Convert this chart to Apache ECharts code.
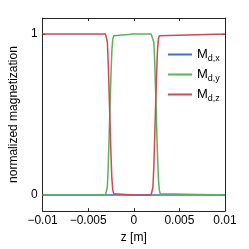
<!DOCTYPE html>
<html><head><meta charset="utf-8">
<script src="https://cdn.jsdelivr.net/npm/echarts@6/dist/echarts.min.js"></script>
<style>html,body{margin:0;padding:0;background:#fff}#c{width:249px;height:249px}</style>
</head><body><div id="c"></div>
<script>
var zValues = [-0.01,
  -0.0031, -0.0030, -0.0029, -0.0028, -0.0027, -0.0026, -0.0025, -0.0024, -0.0023, -0.0022, -0.0021, -0.0020,
  0,
  0.0019, 0.0020, 0.0021, 0.0022, 0.0023, 0.0024, 0.0025, 0.0026, 0.0027, 0.0028, 0.0029, 0.0030,
  0.01];
var mdx = [0,
  0, 0, 0, 0, 0, 0, 0, 0, 0, 0, 0, 0,
  0,
  0, 0, 0, 0, 0, 0, 0, 0, 0, 0, 0, 0,
  0];
var mdy = [0,
  0, 0.01, 0.05, 0.18, 0.37, 0.57, 0.75, 0.9, 0.97, 0.99, 0.998, 1,
  1,
  1, 1, 0.99, 0.95, 0.82, 0.63, 0.43, 0.25, 0.1, 0.03, 0.008, 0,
  0];
var mdz = [1,
  1, 0.99, 0.95, 0.82, 0.63, 0.43, 0.25, 0.1, 0.03, 0.008, 0, 0,
  0,
  0, 0.01, 0.05, 0.18, 0.37, 0.57, 0.75, 0.9, 0.97, 0.99, 0.998, 1,
  1];
var seriesNames = ['M_d,x', 'M_d,y', 'M_d,z'];
var seriesSubs = ['d,x', 'd,y', 'd,z'];
var yTicks = [0, 1];

function pairs(ys){ return zValues.map(function(z,i){ return [z, ys[i]]; }); }
var font = 'Liberation Sans, Arial, sans-serif';
var axisCol = '#262626';
var chart = echarts.init(document.getElementById('c'), null, {renderer:'canvas'});
chart.setOption({
  animation:false,
  textStyle:{fontFamily:font},
  grid:{left:32, right:24, top:18, bottom:30, containLabel:false},
  xAxis:[{
    type:'value', min:-0.01, max:0.01, interval:0.005,
    name:'z [m]', nameLocation:'middle', nameGap:17,
    nameTextStyle:{fontSize:12, color:'#000', fontFamily:font},
    axisLine:{onZero:false, lineStyle:{color:axisCol, width:1}},
    axisTick:{inside:true, length:3, lineStyle:{color:axisCol}},
    axisLabel:{fontSize:12, color:'#000', margin:4, fontFamily:font,
      formatter:function(v){ return String(v).replace('-', '\u2212'); }},
    splitLine:{show:false}
  },{
    type:'value', position:'top', min:-0.01, max:0.01, interval:0.005,
    axisLine:{onZero:false, lineStyle:{color:axisCol, width:1}},
    axisTick:{inside:true, length:3, lineStyle:{color:axisCol}},
    axisLabel:{show:false}, splitLine:{show:false}
  }],
  yAxis:[{
    type:'value', min:-0.1, max:1.1,
    name:'normalized magnetization', nameLocation:'middle', nameGap:13,
    nameTextStyle:{fontSize:12, color:'#000', fontFamily:font},
    axisLine:{show:true, onZero:false, lineStyle:{color:axisCol, width:1}},
    axisTick:{show:true, inside:true, length:3, customValues:yTicks, lineStyle:{color:axisCol}},
    axisLabel:{fontSize:12, color:'#000', margin:5, customValues:yTicks, fontFamily:font},
    splitLine:{show:false}
  },{
    type:'value', position:'right', min:-0.1, max:1.1,
    axisLine:{show:true, onZero:false, lineStyle:{color:axisCol, width:1}},
    axisTick:{show:true, inside:true, length:3, customValues:yTicks, lineStyle:{color:axisCol}},
    axisLabel:{show:false}, splitLine:{show:false}
  }],
  legend:{
    orient:'vertical', left:163, top:43, itemGap:5,
    itemWidth:24, itemHeight:2, icon:'rect',
    data:seriesNames,
    formatter:function(name){ var i = seriesNames.indexOf(name); return '{m|M}{s|' + seriesSubs[i] + '}'; },
    textStyle:{color:'#000', fontFamily:font, rich:{
      m:{fontSize:13, color:'#000', fontFamily:font},
      s:{fontSize:9, color:'#000', fontFamily:font, padding:[8,0,0,0]}
    }}
  },
  series:[
    {name:seriesNames[0], type:'line', data:pairs(mdx), showSymbol:false, symbol:'none', z:3,
     lineStyle:{color:'#3f6fc6', width:1.5}, itemStyle:{color:'#3f6fc6'}},
    {name:seriesNames[1], type:'line', data:pairs(mdy), showSymbol:false, symbol:'none', z:10,
     lineStyle:{color:'#5cb25c', width:1.5}, itemStyle:{color:'#5cb25c'}},
    {name:seriesNames[2], type:'line', data:pairs(mdz), showSymbol:false, symbol:'none', z:11,
     lineStyle:{color:'#cc4a55', width:1.5}, itemStyle:{color:'#cc4a55'}}
  ]
});
</script></body></html>
